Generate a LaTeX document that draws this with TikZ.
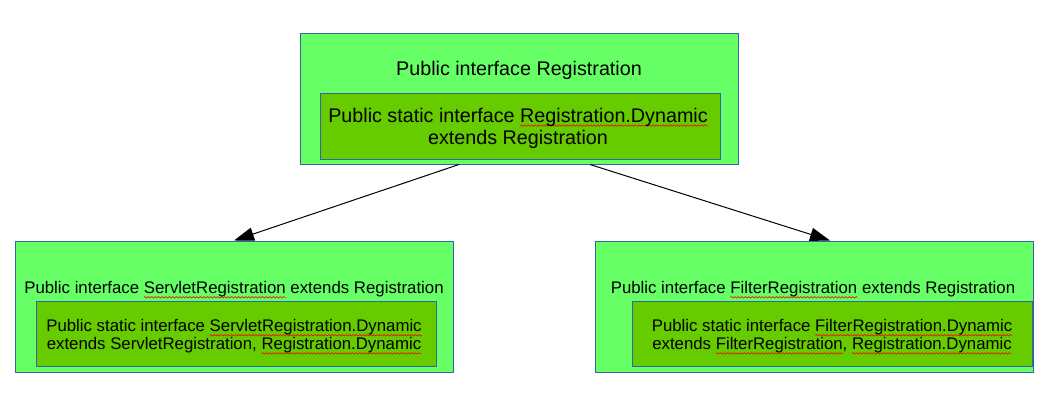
\documentclass[tikz,border=0pt]{standalone}
\usepackage{fontspec}
\setmainfont{Liberation Sans}
\usetikzlibrary{arrows.meta,calc,decorations.pathmorphing}

\definecolor{outergreen}{HTML}{66FF66}
\definecolor{innergreen}{HTML}{66CC00}
\definecolor{edgeblue}{HTML}{3465A4}

% red wavy line under a word
\newsavebox{\spellbox}
\newcommand{\spellerr}[1]{\sbox{\spellbox}{#1}\rlap{\tikz[overlay,baseline=0pt]\draw[reset cm,red,line width=0.45pt,decorate,decoration={snake,amplitude=0.55pt,segment length=2.6pt}] (0pt,-2.6pt) -- (\wd\spellbox,-2.6pt);}\usebox{\spellbox}}
\newcommand{\bigtext}{\fontsize{14.8}{16.5}\selectfont}
\newcommand{\smalltext}{\fontsize{12.6}{13.6}\selectfont}

\tikzset{
  outerbox/.style={draw=edgeblue, line width=0.75pt, fill=outergreen, minimum width=328.5pt, minimum height=98.25pt, inner sep=0pt},
  innerbox/.style={draw=edgeblue, line width=0.75pt, fill=innergreen, minimum width=300pt, minimum height=49pt, inner sep=0pt, align=center},
  titletext/.style={inner sep=0pt, align=center},
  arrowline/.style={line width=0.75pt, -{Triangle[length=15pt,width=10pt]}}
}

\begin{document}
\begin{tikzpicture}[x=0.75pt,y=0.75pt,yscale=-1,xscale=1]
\useasboundingbox (0,0) rectangle (1051,404);

% Outer boxes
\node [outerbox] (top) at (519,98.5) {};
\node [outerbox] (left) at (234,306.5) {};
\node [outerbox] (right) at (814,306.5) {};

% Titles
\node [titletext, font=\bigtext] (toptitle) at (519,70) {Public interface Registration};
\node [titletext, font=\smalltext] (lefttitle) at (234,289.5) {Public interface \spellerr{ServletRegistration} extends Registration};
\node [titletext, font=\smalltext] (righttitle) at (813,289.5) {Public interface \spellerr{FilterRegistration} extends Registration};

% Inner boxes
\node [innerbox, font=\bigtext] (topin) at (520,126.5) {};
\node [titletext, font=\bigtext] (topintext) at (518,128) {Public static interface \spellerr{Registration.Dynamic}\\extends Registration};
\node [innerbox, font=\smalltext] (leftin) at (236,334) {};
\node [titletext, font=\smalltext] (leftintext) at (234,336.5) {Public static interface \spellerr{ServletRegistration.Dynamic}\\extends ServletRegistration, \spellerr{Registration.Dynamic}};
\node [innerbox, font=\smalltext] (rightin) at (832,334) {};
\node [titletext, font=\smalltext] (rightintext) at (832,336.5) {Public static interface \spellerr{FilterRegistration.Dynamic}\\extends \spellerr{FilterRegistration}, \spellerr{Registration.Dynamic}};

% Arrows
\draw [arrowline] ($(top.south)+(-60,0)$) -- (left.north);
\draw [arrowline] ($(top.south)+(71,0)$) -- ($(right.north)+(16,0)$);

\end{tikzpicture}
\end{document}
